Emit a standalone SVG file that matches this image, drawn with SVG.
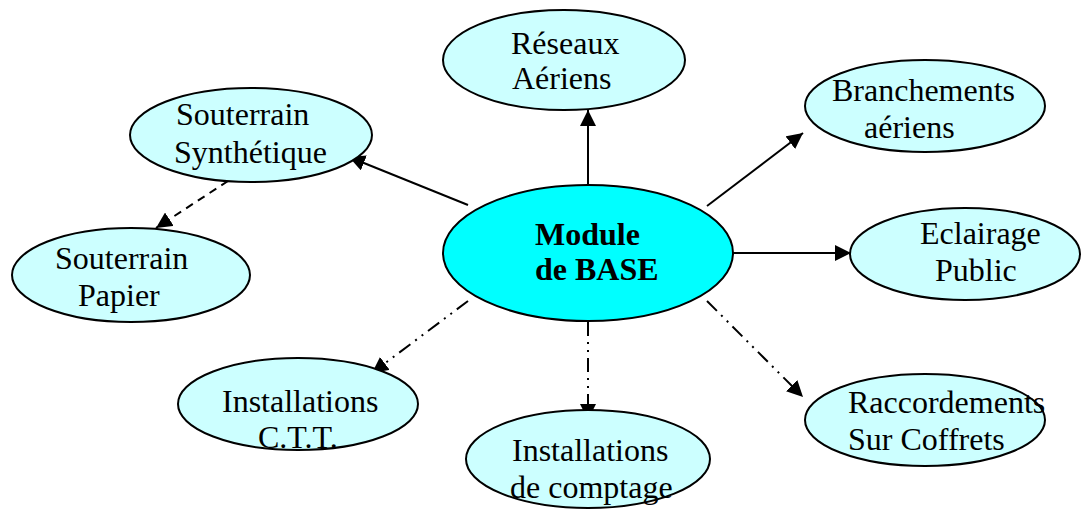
<svg xmlns="http://www.w3.org/2000/svg" width="1082" height="511" viewBox="0 0 1082 511">
<defs>
<style>
.n{fill:#CCFFFF;stroke:#000;stroke-width:2}
.c{fill:#00FFFF;stroke:#000;stroke-width:2}
.t{font-family:"Liberation Serif","Times New Roman",serif;font-size:32px;fill:#000}
.b{font-family:"Liberation Serif","Times New Roman",serif;font-size:32px;font-weight:bold;fill:#000}
.l{stroke:#000;stroke-width:2;fill:none}
.d{stroke-dasharray:8,6}
.dd{stroke-dasharray:14,6,2,6,2,6}
</style>
<marker id="a" viewBox="0 0 16 16" refX="16" refY="8" markerWidth="16" markerHeight="16" markerUnits="userSpaceOnUse" orient="auto">
<path d="M0,0 L16,8 L0,16 z" fill="#000"/>
</marker>
</defs>
<g id="connectors">
<line class="l" x1="588" y1="187" x2="588" y2="110" marker-end="url(#a)"/>
<line class="l" x1="707" y1="206" x2="803" y2="133" marker-end="url(#a)"/>
<line class="l" x1="733" y1="253" x2="851" y2="253" marker-end="url(#a)"/>
<line class="l" x1="468" y1="205" x2="349" y2="157" marker-end="url(#a)"/>
<line class="l d" x1="228" y1="181" x2="156" y2="228" marker-end="url(#a)"/>
<line class="l dd" x1="468" y1="301" x2="372" y2="373" marker-end="url(#a)"/>
<line class="l dd" x1="588" y1="322" x2="588" y2="420" marker-end="url(#a)"/>
<line class="l dd" x1="707" y1="301" x2="803" y2="397" marker-end="url(#a)"/>
</g>
<g id="reseaux"><ellipse class="n" cx="564" cy="60" rx="121" ry="50"/><text class="t" x="511" y="54">Réseaux</text><text class="t" x="512" y="89">Aériens</text></g>
<g id="synthetique"><ellipse class="n" cx="251" cy="135" rx="121" ry="47"/><text class="t" x="176" y="125">Souterrain</text><text class="t" x="174" y="163">Synthétique</text></g>
<g id="branchements"><ellipse class="n" cx="925" cy="106" rx="120" ry="46"/><text class="t" x="832" y="101">Branchements</text><text class="t" x="864" y="138">aériens</text></g>
<g id="papier"><ellipse class="n" cx="131" cy="275" rx="119" ry="47"/><text class="t" x="55" y="269">Souterrain</text><text class="t" x="78" y="306">Papier</text></g>
<g id="module"><ellipse class="c" cx="588" cy="253" rx="145" ry="68"/><text class="b" x="535" y="245">Module</text><text class="b" x="535" y="280">de BASE</text></g>
<g id="eclairage"><ellipse class="n" cx="965" cy="254" rx="115" ry="46"/><text class="t" x="920" y="244">Eclairage</text><text class="t" x="935" y="281">Public</text></g>
<g id="ctt"><ellipse class="n" cx="298" cy="404" rx="120" ry="46"/><text class="t" x="222" y="412">Installations</text><text class="t" x="258" y="448">C.T.T.</text></g>
<g id="comptage"><ellipse class="n" cx="588" cy="459" rx="122" ry="49"/><text class="t" x="512" y="461">Installations</text><text class="t" x="510" y="498">de comptage</text></g>
<g id="raccordements"><ellipse class="n" cx="925" cy="420" rx="120" ry="46"/><text class="t" x="848" y="413">Raccordements</text><text class="t" x="848" y="450">Sur Coffrets</text></g>
</svg>
